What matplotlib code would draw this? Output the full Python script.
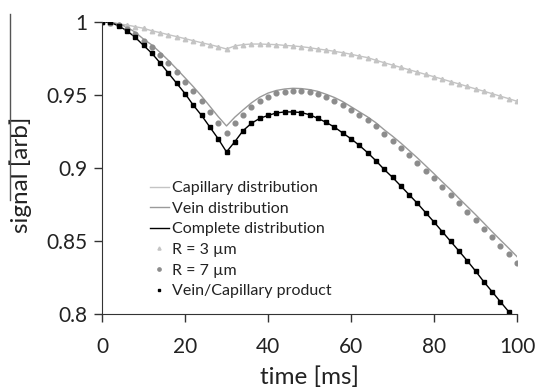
import matplotlib
matplotlib.use('Agg')
import matplotlib.pyplot as plt
from matplotlib.lines import Line2D

plt.rcParams['font.family'] = ['Lato', 'DejaVu Sans']

'''values read off the reference, one point every 2 ms'''
time_ms = list(range(0, 101, 2))

capillary = [1.0, 0.9995, 0.9986, 0.998, 0.9968, 0.9957, 0.994, 0.9927, 0.9913, 0.99,
             0.9886, 0.9872, 0.9858, 0.9845, 0.9831, 0.9815, 0.9836, 0.9845, 0.9849, 0.9849,
             0.9847, 0.9845, 0.984, 0.9836, 0.9831, 0.9824, 0.9815, 0.9808, 0.9799, 0.979,
             0.9779, 0.9767, 0.9756, 0.9738, 0.9721, 0.9705, 0.9689, 0.9673, 0.9657, 0.9641,
             0.9625, 0.9609, 0.9592, 0.9576, 0.9559, 0.9542, 0.9526, 0.9509, 0.9492, 0.9475,
             0.9457]

vein = [1.0, 0.9998, 0.9988, 0.9965, 0.993, 0.9883, 0.9843, 0.9792, 0.9737, 0.9678,
        0.9618, 0.9557, 0.9492, 0.9422, 0.9352, 0.9288, 0.9348, 0.9398, 0.9446, 0.9485,
        0.9513, 0.9531, 0.9541, 0.9546, 0.9544, 0.9537, 0.9525, 0.9505, 0.9483, 0.9455,
        0.942, 0.9385, 0.935, 0.931, 0.9262, 0.9218, 0.9171, 0.912, 0.9069, 0.9015,
        0.8961, 0.8905, 0.8851, 0.8793, 0.8737, 0.8681, 0.8623, 0.8564, 0.8507, 0.8451,
        0.8393]

r7 = [1.0, 0.9995, 0.998, 0.9955, 0.9918, 0.987, 0.9827, 0.9774, 0.9717, 0.9655,
      0.959, 0.9527, 0.946, 0.9386, 0.931, 0.9237, 0.9306, 0.9363, 0.9415, 0.9459,
      0.9489, 0.9511, 0.9523, 0.953, 0.9527, 0.952, 0.9507, 0.9484, 0.9461, 0.9432,
      0.9397, 0.936, 0.9329, 0.9286, 0.9233, 0.9187, 0.9139, 0.9087, 0.9037, 0.8982,
      0.8929, 0.8872, 0.8817, 0.8758, 0.8701, 0.8644, 0.8585, 0.8525, 0.8466, 0.8409,
      0.8347]

product = [1.0, 0.9998, 0.9973, 0.994, 0.9895, 0.984, 0.9786, 0.972, 0.965, 0.958,
           0.951, 0.943, 0.936, 0.928, 0.92, 0.911, 0.918, 0.9256, 0.9306, 0.934,
           0.936, 0.9377, 0.9384, 0.9384, 0.938, 0.9365, 0.934, 0.9313, 0.928, 0.924,
           0.92, 0.9155, 0.9105, 0.905, 0.899, 0.8936, 0.8877, 0.8817, 0.8758, 0.8694,
           0.863, 0.8564, 0.8498, 0.8432, 0.8365, 0.8295, 0.8221, 0.8153, 0.8084, 0.8016,
           0.7948]

x_ticks = [0, 20, 40, 60, 80, 100]
y_ticks = [0.8, 0.85, 0.9, 0.95, 1.0]
y_tick_labels = ['0.8', '0.85', '0.9', '0.95', '1']

fig = plt.figure(figsize=(5.37, 3.89), dpi=100)
ax = fig.add_axes([102/537, 1-314/389, 415/537, 292/389])
fs = 15

ax.plot(time_ms, capillary, color='#c4c4c4', lw=1.0, label='Capillary distribution')
ax.plot(time_ms, vein, color='#9a9a9a', lw=1.0, label='Vein distribution')
ax.plot(time_ms, product, color='black', lw=1.0, label='Complete distribution')
ax.plot(time_ms, capillary, color='#c4c4c4', marker='^', linestyle='None', markersize=3.2,
        label='R = 3 µm')
ax.plot(time_ms, r7, color='#8c8c8c', marker='o', linestyle='None', markersize=3.4,
        label='R = 7 µm')
ax.plot(time_ms, product, color='black', marker='s', linestyle='None', markersize=2.3,
        label='Vein/Capillary product')

ax.set_xlim(0, 100)
ax.set_ylim(0.8, 1.0)
ax.set_xticks(x_ticks)
ax.set_yticks(y_ticks)
ax.set_yticklabels(y_tick_labels)
ax.tick_params(direction='out', length=5.5, width=1, labelsize=fs, color='#333333',
               labelcolor='#222222')
ax.tick_params(axis='x', pad=11)
ax.tick_params(axis='y', pad=5)
for side in ['top', 'right']:
    ax.spines[side].set_visible(False)
for side in ['left', 'bottom']:
    ax.spines[side].set_color('#333333')

ax.set_xlabel('time [ms]', fontsize=17.5, color='#222222', labelpad=7)
ax.set_ylabel('signal [arb]', fontsize=17.5, color='#222222')
ax.yaxis.set_label_coords(-0.169, 0.476)

ax.legend(loc='upper left', bbox_to_anchor=(0.116, 0.455), frameon=False, fontsize=11.5,
          borderpad=0, borderaxespad=0, handlelength=1.15, handletextpad=0.2,
          labelspacing=0.4, labelcolor='#222222', markerscale=0.7)

'''stray vertical rule left of the y label'''
fig.add_artist(Line2D([9.5/537, 9.5/537], [1-14/389, 1-200/389], color='#555555', lw=1))

fig.savefig('out.png', dpi=100)
